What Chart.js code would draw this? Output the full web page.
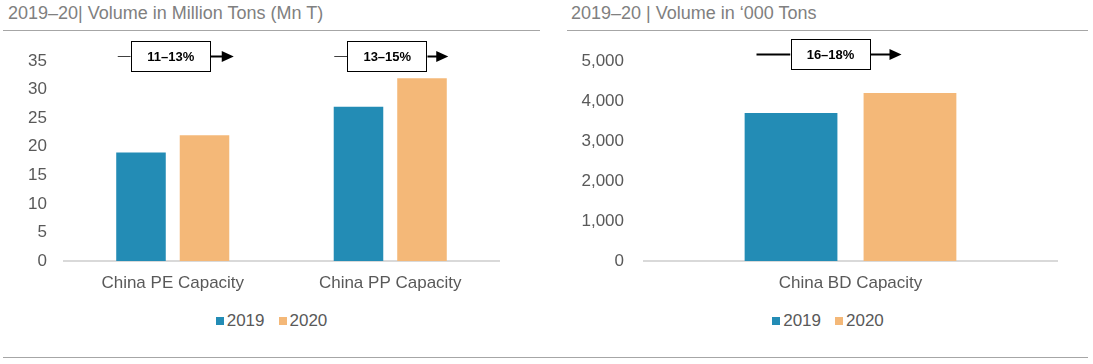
<!DOCTYPE html>
<html>
<head>
<meta charset="utf-8">
<script src="https://cdn.jsdelivr.net/npm/chart.js@4.4.0/dist/chart.umd.min.js"></script>
<style>
  body { margin: 0; width: 1093px; height: 364px; background: #fff; position: relative; overflow: hidden;
         font-family: "Liberation Sans", Arial, sans-serif; }
  .title { position: absolute; top: 0; font-size: 18px; line-height: 26px; color: #808080; white-space: nowrap; }
  .rule { position: absolute; height: 1px; background: #a6a6a6; }
  .wrap { position: absolute; }
  .legend { position: absolute; top: 311px; display: flex; justify-content: center;
            font-size: 17px; line-height: 20px; color: #595959; }
  .legend .item { display: flex; align-items: center; margin: 0 7px; }
  .legend i { display: inline-block; width: 8px; height: 8px; margin-right: 3px; }
</style>
</head>
<body>
<div class="title" style="left:8px">2019–20| Volume in Million Tons (Mn T)</div>
<div class="title" style="left:571px">2019–20 | Volume in ‘000 Tons</div>
<div class="rule" style="left:3px; top:30px; width:537px"></div>
<div class="rule" style="left:567px; top:30px; width:521px"></div>
<div class="rule" style="left:3px; top:357px; width:1085px"></div>

<div class="wrap" style="left:0; top:30px"><canvas id="leftChart" width="545" height="270"></canvas></div>
<div class="wrap" style="left:550px; top:30px"><canvas id="rightChart" width="543" height="270"></canvas></div>

<div class="legend" id="leftLegend" style="left:0; width:543px"></div>
<div class="legend" id="rightLegend" style="left:560px; width:536px"></div>

<script>
const seriesLabels = ["2019", "2020"];
const seriesColors = ["#238cb5", "#f4b878"];

const leftCategories = ["China PE Capacity", "China PP Capacity"];
const leftValues2019 = [19, 27];
const leftValues2020 = [22, 32];
const leftGrowth = ["11–13%", "13–15%"];

const rightCategories = ["China BD Capacity"];
const rightValues2019 = [3700];
const rightValues2020 = [4200];
const rightGrowth = ["16–18%"];

const tickColor = "#595959";
const fontFamily = '"Liberation Sans", Arial, sans-serif';

// box with a growth range and an arrow above each category
const growthArrows = {
  id: "growthArrows",
  afterDraw(chart, args, opts) {
    const ctx = chart.ctx;
    const xScale = chart.scales.x;
    const cy = chart.chartArea.top + opts.dy;
    const bw = 80, bh = 31;
    opts.items.forEach((it, i) => {
      const cx = xScale.getPixelForValue(i) + it.dx;
      const l = cx - bw / 2, r = cx + bw / 2;
      ctx.save();
      ctx.strokeStyle = it.stubColor;
      ctx.lineWidth = it.stubWidth;
      ctx.beginPath();
      ctx.moveTo(l - it.stub, cy);
      ctx.lineTo(l, cy);
      ctx.stroke();

      ctx.strokeStyle = "#000";
      ctx.lineWidth = 2;
      ctx.beginPath();
      ctx.moveTo(r, cy);
      ctx.lineTo(r + it.arrow - 10, cy);
      ctx.stroke();
      ctx.fillStyle = "#000";
      ctx.beginPath();
      ctx.moveTo(r + it.arrow, cy);
      ctx.lineTo(r + it.arrow - 12, cy - 5.5);
      ctx.lineTo(r + it.arrow - 12, cy + 5.5);
      ctx.closePath();
      ctx.fill();

      ctx.fillStyle = "#fff";
      ctx.fillRect(l, cy - bh / 2, bw, bh);
      ctx.strokeStyle = "#000";
      ctx.lineWidth = 1;
      ctx.strokeRect(Math.round(l) + 0.5, Math.round(cy - bh / 2) + 0.5, bw - 1, bh - 1);

      ctx.fillStyle = "#000";
      ctx.font = "bold 13px " + fontFamily;
      ctx.textAlign = "center";
      ctx.textBaseline = "middle";
      ctx.fillText(it.text, cx, cy + 1);
      ctx.restore();
    });
  }
};

function makeChart(id, categories, v2019, v2020, yMax, yStep, yWidth, yPad, padRight, catPct, arrows, dy) {
  return new Chart(document.getElementById(id), {
    type: "bar",
    data: {
      labels: categories,
      datasets: [
        { label: seriesLabels[0], data: v2019, backgroundColor: seriesColors[0] },
        { label: seriesLabels[1], data: v2020, backgroundColor: seriesColors[1] }
      ]
    },
    options: {
      responsive: false,
      animation: false,
      categoryPercentage: catPct,
      barPercentage: 0.78,
      layout: { padding: { top: 31, right: padRight, left: 0, bottom: 0 } },
      plugins: {
        legend: { display: false },
        tooltip: { enabled: false },
        growthArrows: { items: arrows, dy: dy }
      },
      scales: {
        x: {
          grid: { display: false, drawTicks: false },
          border: { display: true, color: "#d9d9d9", width: 2 },
          ticks: { color: tickColor, font: { family: fontFamily, size: 17 }, padding: 12 },
          afterFit(scale) { scale.height = 39; }
        },
        y: {
          min: 0,
          max: yMax,
          grid: { display: false, drawTicks: false },
          border: { display: false },
          ticks: { stepSize: yStep, color: tickColor, font: { family: fontFamily, size: 17 }, padding: yPad },
          afterFit(scale) { scale.width = yWidth; }
        }
      }
    },
    plugins: [growthArrows]
  });
}

makeChart("leftChart", leftCategories, leftValues2019, leftValues2020, 35, 5, 64, 17, 46, 0.584, [
  { text: leftGrowth[0], dx: -2, stub: 13, arrow: 23, stubColor: "#404040", stubWidth: 1 },
  { text: leftGrowth[1], dx: -3, stub: 13, arrow: 21, stubColor: "#404040", stubWidth: 1 }
], -4.5);

makeChart("rightChart", rightCategories, rightValues2019, rightValues2020, 5000, 1000, 94, 20, 36, 0.576, [
  { text: rightGrowth[0], dx: -20, stub: 34, arrow: 31, stubColor: "#000", stubWidth: 2 }
], -6.5);

function buildLegend(id) {
  const el = document.getElementById(id);
  seriesLabels.forEach((lab, i) => {
    const item = document.createElement("span");
    item.className = "item";
    const sw = document.createElement("i");
    sw.style.background = seriesColors[i];
    item.appendChild(sw);
    item.appendChild(document.createTextNode(lab));
    el.appendChild(item);
  });
}
buildLegend("leftLegend");
buildLegend("rightLegend");
</script>
</body>
</html>
